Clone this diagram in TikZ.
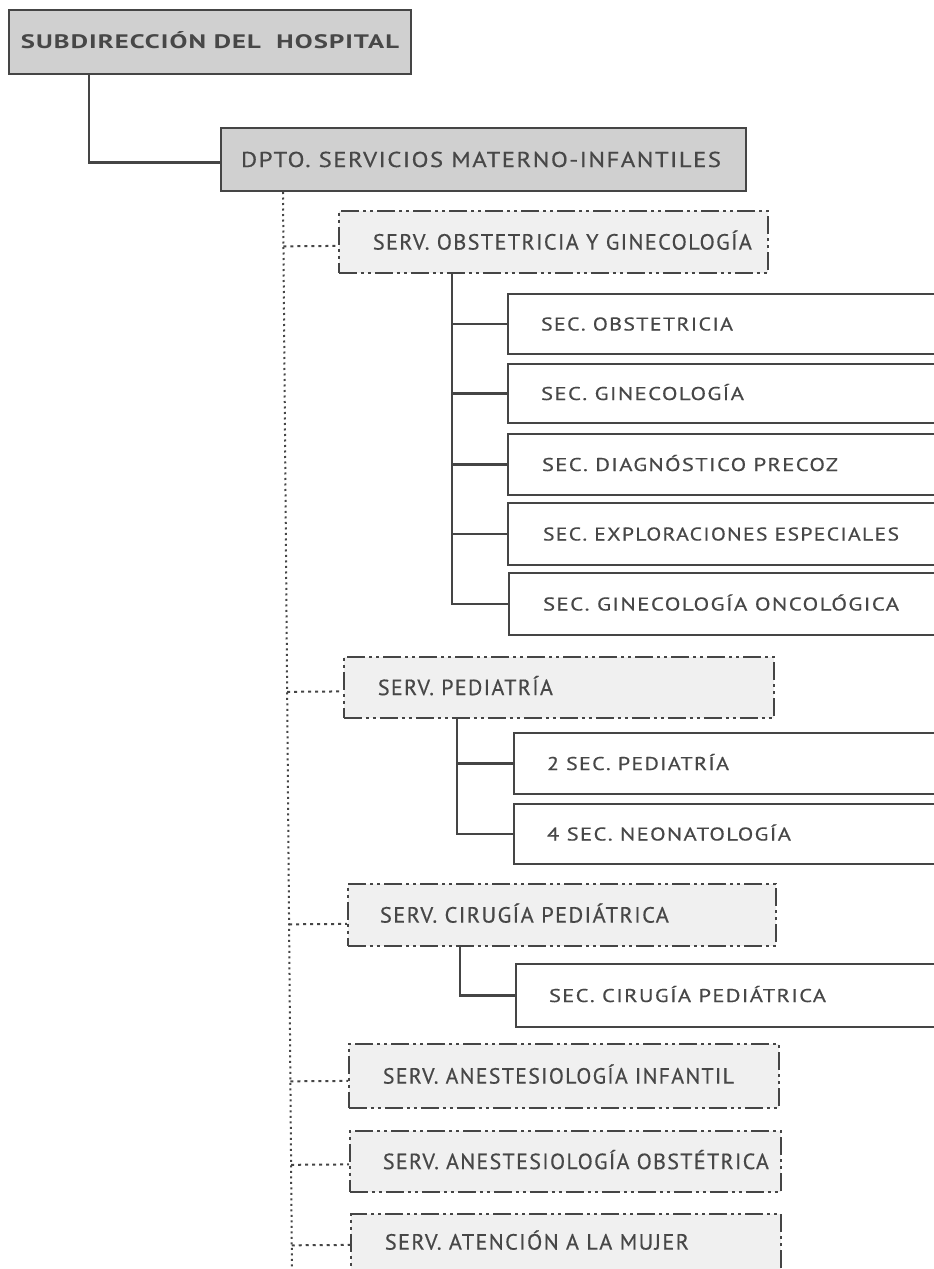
\documentclass[tikz,border=0pt]{standalone}
\usepackage{fontspec}
\usepackage{graphicx}
\setmainfont{PT Sans}
\newfontfamily\mfont{PT Sans}[LetterSpace=6, FakeBold=0.4]
\newfontfamily\hfont{PT Sans Bold}[LetterSpace=4]
\usetikzlibrary{calc}
\definecolor{bordc}{HTML}{454545}
\definecolor{headfill}{HTML}{D0D0D0}
\definecolor{servfill}{HTML}{F0F0F0}
\definecolor{txtc}{HTML}{474747}
% #1 box width, #2 left padding, #3 text width, #4 text
\newcommand\bx[4]{\makebox[#1pt][l]{\hspace*{#2pt}\resizebox{#3pt}{\height}{#4}}}
\begin{document}
\begin{tikzpicture}[x=1pt,y=-1pt,
  base/.style={anchor=north west, inner xsep=0pt, inner ysep=0pt, text=txtc, draw=bordc},
  headbox/.style={base, fill=headfill, line width=2pt},
  servbox/.style={base, fill=servfill, line width=1.8pt,
    dash pattern=on 18pt off 4pt on 3pt off 4pt on 3pt off 4pt,
    font=\mfont\fontsize{22}{26}\selectfont, text height=15.4pt, text depth=0pt},
  secbox/.style={base, fill=white, line width=2pt,
    font=\mfont\fontsize{18.5}{22}\selectfont, text height=13pt, text depth=0pt},
  link/.style={draw=bordc, line width=2.2pt},
  dotlink/.style={draw=bordc, line width=2pt, dash pattern=on 2pt off 3.5pt},
  hdot/.style={draw=bordc, line width=2pt, dash pattern=on 3pt off 4pt},
]
\useasboundingbox (0,0) rectangle (934,1269);
\clip (0,0) rectangle (934,1269);

% top boxes
\node[headbox, font=\hfont\fontsize{19.5}{23}\selectfont, text height=13.7pt, text depth=0pt, minimum height=64pt] (sub) at (8,9)
  {\bx{402}{12}{378}{SUBDIRECCIÓN DEL\ \ HOSPITAL}};
\node[headbox, font=\mfont\fontsize{21.5}{25}\selectfont, text height=15pt, text depth=0pt, minimum height=63pt] (dpto) at (220,127)
  {\bx{525}{20}{480}{DPTO. SERVICIOS MATERNO-INFANTILES}};

% services
\node[servbox, minimum height=62pt] (obs) at (338,210)
  {\bx{429}{34}{379}{SERV. OBSTETRICIA Y GINECOLOGÍA}};
\node[servbox, minimum height=61pt] (ped) at (343,656)
  {\bx{430}{34}{175}{SERV. PEDIATRÍA}};
\node[servbox, minimum height=62pt] (cir) at (347,883)
  {\bx{428}{32}{289}{SERV. CIRUGÍA PEDIÁTRICA}};
\node[servbox, minimum height=64pt] (ai) at (348,1043)
  {\bx{430}{34}{351}{SERV. ANESTESIOLOGÍA INFANTIL}};
\node[servbox, minimum height=61pt] (ao) at (349,1130)
  {\bx{431}{33}{386}{SERV. ANESTESIOLOGÍA OBSTÉTRICA}};
\node[servbox, minimum height=56pt] (at) at (350,1213)
  {\bx{430}{34}{304}{SERV. ATENCIÓN A LA MUJER}};

% sections
\node[secbox, minimum height=60pt] (s1) at (507,293) {\bx{450}{33}{192}{SEC. OBSTETRICIA}};
\node[secbox, minimum height=59pt] (s2) at (507,363) {\bx{450}{33}{203}{SEC. GINECOLOGÍA}};
\node[secbox, minimum height=61pt] (s3) at (507,433) {\bx{450}{34}{296}{SEC. DIAGNÓSTICO PRECOZ}};
\node[secbox, minimum height=62pt] (s4) at (507,502) {\bx{450}{35}{356}{SEC. EXPLORACIONES ESPECIALES}};
\node[secbox, minimum height=62pt] (s5) at (508,572) {\bx{450}{34}{356}{SEC. GINECOLOGÍA ONCOLÓGICA}};
\node[secbox, minimum height=61pt] (p1) at (513,732) {\bx{450}{33}{182}{2 SEC. PEDIATRÍA}};
\node[secbox, minimum height=60pt] (p2) at (513,803) {\bx{450}{33}{244}{4 SEC. NEONATOLOGÍA}};
\node[secbox, minimum height=63pt] (c1) at (515,963) {\bx{450}{33}{277}{SEC. CIRUGÍA PEDIÁTRICA}};

% top connector
\draw[link] ([xshift=81pt]sub.south west) |- ([yshift=-3pt]dpto.west);

% main dotted line
\coordinate (dtop) at ([xshift=63pt]dpto.south west);
\coordinate (dbot) at (292,1275);
\draw[dotlink] (dtop) -- (dbot);
\foreach \n/\s in {obs/4, ped/4, cir/9, ai/5, ao/3, at/3}{
  \draw[hdot] ($(dtop)!([yshift=-\s pt]\n.west)!(dbot)$) -- ([yshift=-\s pt]\n.west);
}

% obstetrics branches
\coordinate (ov) at ([xshift=114pt]obs.south west);
\draw[link] (ov) |- (s5.west);
\foreach \n in {s1,s2,s3,s4}{\draw[link] (ov |- \n.west) -- (\n.west);}
% pediatrics branches
\coordinate (pv) at ([xshift=114pt]ped.south west);
\draw[link] (pv) |- (p2.west);
\draw[link] (pv |- p1.west) -- (p1.west);
% surgery branch
\coordinate (cv) at ([xshift=113pt]cir.south west);
\draw[link] (cv) |- (c1.west);
\end{tikzpicture}
\end{document}
